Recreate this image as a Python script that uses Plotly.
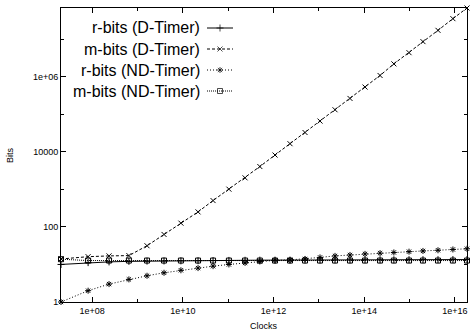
import plotly.graph_objects as go
import math

# ---- data ----
clocks = [2.07e7, 8.2e7, 2.37e8, 6.5e8, 1.63e9, 3.86e9, 9.1e9, 2.17e10, 4.65e10,
          1.04e11, 2.36e11, 5.0e11, 1.08e12, 2.31e12, 4.95e12, 1.06e13, 2.27e13,
          4.85e13, 1.04e14, 2.23e14, 4.5e14, 9.7e14, 1.97e15, 4.22e15, 9.0e15, 1.84e16]

rbits_d = [10, 11.2, 11.7, 12.1, 12.3, 12.4, 12.5, 12.6, 12.7, 12.8, 12.9, 13.0, 13.0,
           13.0, 13.1, 13.1, 13.2, 13.2, 13.3, 13.3, 13.3, 13.4, 13.4, 13.4, 13.5, 13.5]
mbits_d = [14, 16.1, 16.9, 17.2, 31.5, 63, 126, 251, 503, 1012, 2026, 4055, 8220,
           16450, 32700, 65900, 132000, 264000, 531000, 1.08e6, 2.2e6, 4.37e6,
           8.6e6, 1.72e7, 3.52e7, 6.77e7]
rbits_nd = [1, 2, 3, 4, 5, 6, 7, 8, 9, 10, 11, 12, 12.9, 13.2, 14, 15.4, 16.9, 17.9,
            19.1, 20, 20.9, 21.9, 22.9, 23.9, 25.1, 26.2]
mbits_nd = [13.8, 12.7, 12.7, 12.7, 12.7, 12.7, 12.7, 12.7, 12.7, 12.7, 12.7, 12.7,
            12.7, 12.7, 12.7, 12.7, 12.7, 12.7, 12.7, 12.7, 12.7, 12.7, 12.7, 12.7,
            12.7, 12.7]

names = ["r-bits (D-Timer)", "m-bits (D-Timer)", "r-bits (ND-Timer)", "m-bits (ND-Timer)"]
series = [rbits_d, mbits_d, rbits_nd, mbits_nd]

x_tickvals = [1e8, 1e10, 1e12, 1e14, 1e16]
x_ticktext = ["1e+08", "1e+10", "1e+12", "1e+14", "1e+16"]
x_minor = [1e9, 1e11, 1e13, 1e15]
y_tickvals = [1, 100, 10000, 1e6]
y_ticktext = ["1", "100", "10000", "1e+06"]
y_minor = [10, 1000, 1e5, 1e7]

# ---- styles ----
dashes = ["solid", "3px,2px", "1px,2px", "1px,1px"]
symbols = ["cross-thin-open", "x-thin-open", "asterisk-open", "square-open"]
sizes = [5, 5, 5, 5]

W, H = 470, 334
L, R, T, B = 61, 3, 8, 32
pw, ph = W - L - R, H - T - B

fig = go.Figure()
for name, ys, dsh, sym, sz in zip(names, series, dashes, symbols, sizes):
    fig.add_trace(go.Scatter(
        x=clocks, y=ys, mode="lines+markers", name=name, showlegend=False,
        line=dict(color="black", width=1, dash=dsh),
        marker=dict(symbol=sym, size=sz, color="black",
                    line=dict(color="black", width=1)),
        cliponaxis=False))

# custom legend (text right-aligned, sample on the right like gnuplot)
def px2x(px):
    return (px - L) / pw

def py2y(py):
    return (H - B - py) / ph

rows = [28, 49, 70, 91]
for name, dsh, sym, sz, py in zip(names, dashes, symbols, sizes, rows):
    yy = py2y(py)
    fig.add_annotation(x=px2x(202), y=yy, xref="paper", yref="paper", text=name,
                       showarrow=False, xanchor="right", yanchor="middle",
                       font=dict(family="Liberation Sans", size=16, color="black"))
    fig.add_trace(go.Scatter(
        x=[px2x(207), px2x(220), px2x(233)], y=[yy, yy, yy],
        xaxis="x2", yaxis="y2", mode="lines+markers", showlegend=False,
        hoverinfo="skip",
        line=dict(color="black", width=1, dash=dsh),
        marker=dict(symbol=sym, size=[0, sz, 0], color="black",
                    line=dict(color="black", width=1))))

fig.add_annotation(x=0.5, y=py2y(326), xref="paper", yref="paper", text="Clocks",
                   showarrow=False, xanchor="center", yanchor="middle",
                   font=dict(family="Liberation Sans", size=9, color="black"))
fig.add_annotation(x=px2x(10), y=0.5, xref="paper", yref="paper", text="Bits",
                   showarrow=False, xanchor="center", yanchor="middle", textangle=-90,
                   font=dict(family="Liberation Sans", size=9, color="black"))

axis_common = dict(showgrid=False, zeroline=False, showline=True, linecolor="black",
                   linewidth=1, mirror="allticks", ticks="inside", ticklen=5,
                   tickcolor="black", tickfont=dict(family="Liberation Sans", size=9,
                                                    color="black"))
fig.update_layout(
    width=W, height=H, margin=dict(l=L, r=R, t=T, b=B),
    paper_bgcolor="white", plot_bgcolor="white",
    xaxis=dict(type="log", range=[math.log10(clocks[0]), math.log10(clocks[-1])],
               tickmode="array", tickvals=x_tickvals, ticktext=x_ticktext,
               minor=dict(tickmode="array", tickvals=x_minor, ticks="inside",
                          ticklen=3, tickcolor="black"),
               **axis_common),
    yaxis=dict(type="log", range=[0, math.log10(mbits_d[-1])],
               tickmode="array", tickvals=y_tickvals, ticktext=y_ticktext,
               minor=dict(tickmode="array", tickvals=y_minor, ticks="inside",
                          ticklen=3, tickcolor="black"),
               **axis_common),
    xaxis2=dict(overlaying="x", range=[0, 1], visible=False, fixedrange=True),
    yaxis2=dict(overlaying="y", range=[0, 1], visible=False, fixedrange=True),
    showlegend=False,
)

fig.write_html("out.html")
